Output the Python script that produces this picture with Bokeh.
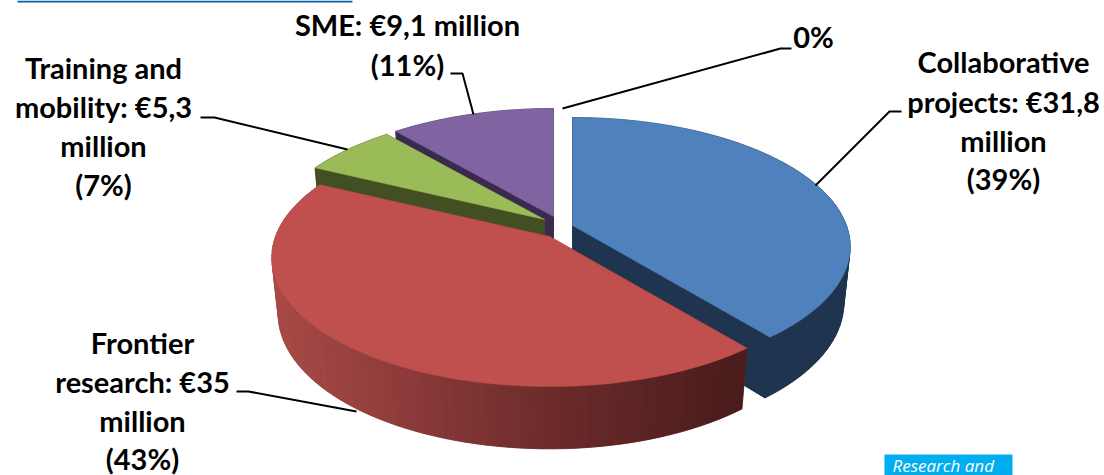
import math

from bokeh.core.properties import value
from bokeh.embed import file_html
from bokeh.models import ColumnDataSource
from bokeh.plotting import figure
from bokeh.resources import INLINE

# Funding by instrument, in million euro
categories = ["Collaborative projects", "Frontier research", "Training and mobility", "SME"]
amounts = [31.8, 35.0, 5.3, 9.1]
top_colours = ["#4F81BD", "#C0504D", "#9BBB59", "#8064A2"]
wall_colours = ["#1F344F", "#7A2E2C", "#424F22", "#3A2A50"]

label_lines = [
    ["Collaborative", "projects: €31,8", "million", "(39%)"],
    ["Frontier", "research: €35", "million", "(43%)"],
    ["Training and", "mobility: €5,3", "million", "(7%)"],
    ["SME: €9,1 million", "(11%)"],
    ["0%"],
]

WIDTH, HEIGHT = 1104, 475
FONT = "Lato"

# Camera model of the tilted disc, in page pixels
RX, RY = 274.0, 125.6
DEPTH_TILT = 0.163
DEPTH_DROP = 0.023
THICKNESS = 57.0
APEXES = [(572, 225), (549, 236), (544, 219), (553, 216)]


def project(apex, angle, radius=1.0, z=0.0):
    """Disc point at a clockwise angle from twelve o'clock, to page pixels."""
    u = math.sin(angle) * radius
    v = math.cos(angle) * radius
    w = 1 + DEPTH_TILT * v + DEPTH_DROP * z
    return apex[0] + RX * u / w, apex[1] + (-RY * v + THICKNESS * z) / w


def mix(a, b, t):
    ca = [int(a[i:i + 2], 16) for i in (1, 3, 5)]
    cb = [int(b[i:i + 2], 16) for i in (1, 3, 5)]
    return "#" + "".join(f"{round(p + (q - p) * t):02x}" for p, q in zip(ca, cb))


def rim_colour(index, x):
    """The red wall darkens from left to right; the others stay flat."""
    if index != 1:
        return wall_colours[index]
    if x < 560:
        return mix("#A94A47", "#6A2A2A", max(0.0, (x - 272) / 288))
    return mix("#6A2A2A", "#4A1C1C", min(1.0, (x - 560) / 180))


p = figure(
    width=WIDTH, height=HEIGHT, x_range=(0, WIDTH), y_range=(HEIGHT, 0),
    output_backend="svg", toolbar_location=None, min_border=0,
    outline_line_color=None, background_fill_color="white",
)
p.axis.visible = False
p.grid.visible = False

total = sum(amounts)
spans = []
start = 0.0
for amount in amounts:
    end = start + amount / total * 2 * math.pi
    spans.append((start, end))
    start = end

# Back slices first, the red front slice last
for index in (3, 2, 0, 1):
    apex = APEXES[index]
    a0, a1 = spans[index]
    steps = max(12, int(math.degrees(a1 - a0) / 2))
    angles = [a0 + (a1 - a0) * i / steps for i in range(steps + 1)]

    # Underside
    low = [project(apex, a, 1, 1) for a in angles]
    centre_low = project(apex, 0, 0, 1)
    p.patch([centre_low[0]] + [q[0] for q in low], [centre_low[1]] + [q[1] for q in low],
            fill_color=wall_colours[index], line_color=wall_colours[index], line_width=0.5)

    # Radial walls
    for a in (a0, a1):
        t0, t1 = project(apex, 0, 0, 0), project(apex, a, 1, 0)
        b1, b0 = project(apex, a, 1, 1), project(apex, 0, 0, 1)
        p.patch([t0[0], t1[0], b1[0], b0[0]], [t0[1], t1[1], b1[1], b0[1]],
                fill_color=wall_colours[index], line_color=wall_colours[index], line_width=0.5)

    # Rim as narrow strips so the shading can vary along it
    strip_xs, strip_ys, strip_cols = [], [], []
    for s, e in zip(angles[:-1], angles[1:]):
        q0, q1 = project(apex, s, 1, 0), project(apex, e, 1, 0)
        q2, q3 = project(apex, e, 1, 1), project(apex, s, 1, 1)
        strip_xs.append([q0[0], q1[0], q2[0], q3[0]])
        strip_ys.append([q0[1], q1[1], q2[1], q3[1]])
        strip_cols.append(rim_colour(index, (q0[0] + q1[0]) / 2))
    p.patches(strip_xs, strip_ys, fill_color=strip_cols, line_color=strip_cols, line_width=0.6)

    # Top face
    top = [project(apex, a) for a in angles]
    p.patch([apex[0]] + [q[0] for q in top], [apex[1]] + [q[1] for q in top],
            fill_color=top_colours[index], line_color=top_colours[index], line_width=0.5)

# Leader lines
leaders = [
    ([901, 889, 815], [111, 111, 185]),
    ([236, 248, 356], [391, 391, 411]),
    ([200, 214, 347], [117, 117, 149]),
    ([450, 462, 473], [73, 73, 114]),
    ([791, 780, 562], [48, 48, 108]),
]
for lx, ly in leaders:
    p.line(lx, ly, line_color="black", line_width=2)

# Slice labels
anchors = [(1003, [61, 101, 140, 178]), (142, [342, 381, 420, 458]),
           (103, [67, 106, 145, 184]), (407, [24, 64]), (813, [36])]
tx, ty, tt = [], [], []
for (cx, rows), lines in zip(anchors, label_lines):
    for row, line in zip(rows, lines):
        tx.append(cx)
        ty.append(row)
        tt.append(line)
p.text(x="x", y="y", text="t", source=ColumnDataSource(dict(x=tx, y=ty, t=tt)),
       text_font=value(FONT), text_font_style="bold", text_font_size="29px",
       text_color="black", text_align="center", text_baseline="middle")

# Rule under the page heading and the corner tag
p.quad(left=[17], right=[352], top=[0], bottom=[2], fill_color="#0B5CA3", line_color=None)
p.quad(left=[884], right=[1012], top=[454], bottom=[475], fill_color="#00AEEF", line_color=None)
p.text(x=[892], y=[465], text=["Research and"], text_font=value("Open Sans"),
       text_font_style="italic", text_font_size="17px", text_color="white",
       text_align="left", text_baseline="middle")

open("out.html", "w").write(file_html(p, INLINE))
